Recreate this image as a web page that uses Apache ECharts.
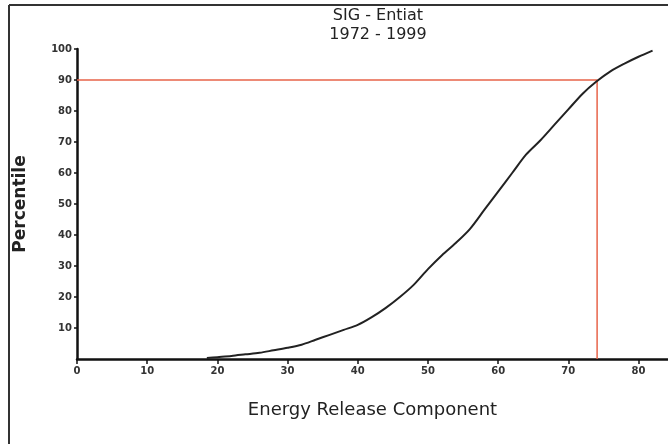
<!DOCTYPE html>
<html>
<head>
<meta charset="utf-8">
<script src="https://cdn.jsdelivr.net/npm/echarts@6/dist/echarts.min.js"></script>
<style>
html,body{margin:0;padding:0;background:#fff;}
#chart{width:668px;height:444px;}
</style>
</head>
<body>
<div id="chart"></div>
<script>
// Energy Release Component values (x) and cumulative percentile (y)
var ercValues = [18.5, 20, 22, 24, 26, 28, 30, 32, 34, 36, 38, 40, 42, 44, 46, 48, 50, 52, 54, 56, 58, 60, 62, 64, 66, 68, 70, 72, 74, 76, 78, 80, 82];
var percentiles = [0.3, 0.6, 1.0, 1.5, 2.0, 2.8, 3.6, 4.6, 6.2, 7.8, 9.4, 11.0, 13.5, 16.5, 20.0, 24.0, 29.0, 33.5, 37.5, 42.0, 48.0, 54.0, 60.0, 66.0, 70.5, 75.5, 80.5, 85.5, 89.5, 92.8, 95.3, 97.5, 99.5];
var xTicks = [0, 10, 20, 30, 40, 50, 60, 70, 80];
var yTicks = [10, 20, 30, 40, 50, 60, 70, 80, 90, 100];
var refPercentile = 90;
var refErc = 74.1;
var titleLines = ['SIG - Entiat', '1972 - 1999'];

var curve = ercValues.map(function (v, i) { return [v, percentiles[i]]; });
var refLine = [[0, refPercentile], [refErc, refPercentile], [refErc, 0]];

var chart = echarts.init(document.getElementById('chart'));
chart.setOption({
  animation: false,
  backgroundColor: '#fff',
  title: {
    text: titleLines.join('\n'),
    left: 373,
    textAlign: 'center',
    top: 1,
    textStyle: { fontFamily: 'DejaVu Sans', fontSize: 16, fontWeight: 'normal', color: '#222', lineHeight: 19 }
  },
  grid: { left: 77, right: 0, top: 49, bottom: 85 },
  xAxis: {
    type: 'value',
    min: 0,
    max: 84.2,
    interval: 10,
    name: 'Energy Release Component',
    nameLocation: 'middle',
    nameGap: 42,
    nameTextStyle: { fontFamily: 'DejaVu Sans', fontSize: 18, color: '#222' },
    axisLine: { show: true, onZero: false, lineStyle: { color: '#111', width: 2.5 } },
    axisTick: { show: true, length: 5, lineStyle: { color: '#111', width: 1.5 }, customValues: xTicks },
    axisLabel: { customValues: xTicks, fontFamily: 'DejaVu Sans', fontSize: 10, fontWeight: 'bold', color: '#333', margin: 7 },
    splitLine: { show: false }
  },
  yAxis: {
    type: 'value',
    min: 0,
    max: 100,
    interval: 10,
    name: 'Percentile',
    nameLocation: 'middle',
    nameGap: 48,
    nameTextStyle: { fontFamily: 'DejaVu Sans', fontSize: 17, fontWeight: 'bold', color: '#222' },
    axisLine: { show: true, onZero: false, lineStyle: { color: '#111', width: 2.5 } },
    axisTick: { show: true, length: 3, lineStyle: { color: '#111', width: 1.5 }, customValues: yTicks },
    axisLabel: { customValues: yTicks, fontFamily: 'DejaVu Sans', fontSize: 10, fontWeight: 'bold', color: '#333', margin: 5 },
    splitLine: { show: false }
  },
  graphic: [
    { type: 'line', shape: { x1: 9, y1: 5, x2: 668, y2: 5 }, style: { stroke: '#333', lineWidth: 2 } },
    { type: 'line', shape: { x1: 9, y1: 5, x2: 9, y2: 444 }, style: { stroke: '#333', lineWidth: 2 } }
  ],
  series: [
    {
      type: 'line',
      data: refLine,
      symbol: 'none',
      lineStyle: { color: '#e8644a', width: 1.5 },
      z: 1
    },
    {
      type: 'line',
      data: curve,
      symbol: 'none',
      smooth: 0.3,
      lineStyle: { color: '#222', width: 2 },
      z: 2
    }
  ]
});
</script>
</body>
</html>
